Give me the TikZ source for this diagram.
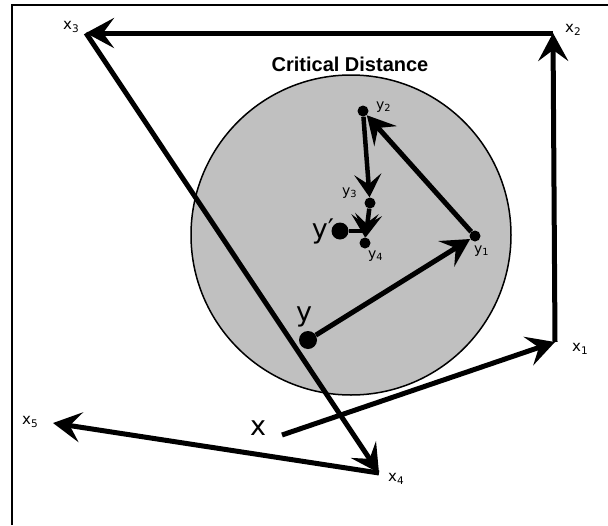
\documentclass[tikz,border=0pt]{standalone}
\usepackage{fontspec}
\setmainfont{DejaVu Sans}
\newfontfamily\headfont{Liberation Sans}
\usepackage{tikz}
\usetikzlibrary{arrows.meta}
\definecolor{zonegray}{RGB}{192,192,192}

\begin{document}
\begin{tikzpicture}[x=1pt, y=-1pt,
    move/.style={line width=5pt, -{Stealth[length=28pt, width=30pt, inset=11pt]}},
    smallmove/.style={line width=4.5pt, -{Stealth[length=23pt, width=27pt, inset=10pt]}},
    walkdot/.style={circle, fill=black, inner sep=0pt, minimum size=11pt},
    bigdot/.style={walkdot, minimum size=18pt},
    lbl/.style={font=\fontsize{15}{15}\selectfont, inner sep=0pt, anchor=west},
    ylbl/.style={font=\fontsize{14}{14}\selectfont, inner sep=0pt, anchor=west},
    biglbl/.style={font=\fontsize{27}{27}\selectfont, inner sep=0pt}
]
    \useasboundingbox (0,0) rectangle (608,525);
    % frame
    \draw[line width=2pt] (12,525) -- (12,5) -- (608,5);

    % critical zone
    \draw[fill=zonegray, line width=1.5pt] (351,235) circle (160pt);
    \node[font=\headfont\bfseries\fontsize{20}{20}\selectfont] (title) at (350,64) {Critical Distance};

    % outer walk
    \coordinate (xs) at (282,435);
    \coordinate (x1) at (555,342);
    \coordinate (x2) at (553,33);
    \coordinate (x3) at (86,33);
    \coordinate (x4) at (379,473);
    \coordinate (x5) at (53,423);
    \node[biglbl] (xlab) at (258,428) {x};
    \node[lbl] (x1lab) at (572,349) {x\textsubscript{1}};
    \node[lbl] (x2lab) at (565,30) {x\textsubscript{2}};
    \node[lbl] (x3lab) at (63,27) {x\textsubscript{3}};
    \node[lbl] (x4lab) at (388,479) {x\textsubscript{4}};
    \node[lbl] (x5lab) at (22,422) {x\textsubscript{5}};

    \draw[move] (xs) -- (x1);
    \draw[move] (x1) -- (x2);
    \draw[move] (x2) -- (x3);
    \draw[move] (x3) -- (x4);
    \draw[move] (x4) -- (x5);

    % inner walk
    \node[bigdot] (y) at (308,340) {};
    \node[walkdot] (y1) at (475,236) {};
    \node[walkdot] (y2) at (363,111) {};
    \node[walkdot] (y3) at (370,203) {};
    \node[walkdot] (y4) at (365,243) {};
    \node[bigdot, minimum size=17pt] (yp) at (340,231) {};
    \node[biglbl] (ylab) at (304,317) {y};
    \node[biglbl] (yplab) at (323,231) {y\char"2032};
    \node[ylbl] (y1lab) at (474,251) {y\textsubscript{1}};
    \node[ylbl] (y2lab) at (376,107) {y\textsubscript{2}};
    \node[ylbl] (y3lab) at (342,193) {y\textsubscript{3}};
    \node[ylbl] (y4lab) at (368,256) {y\textsubscript{4}};

    \draw[move] (y) -- (y1);
    \draw[move] (y1) -- (y2);
    \draw[smallmove] (y2) -- (y3);
    \draw[smallmove] (y3) -- (y4);
    \draw[smallmove] (yp) -| (y4);
\end{tikzpicture}
\end{document}
